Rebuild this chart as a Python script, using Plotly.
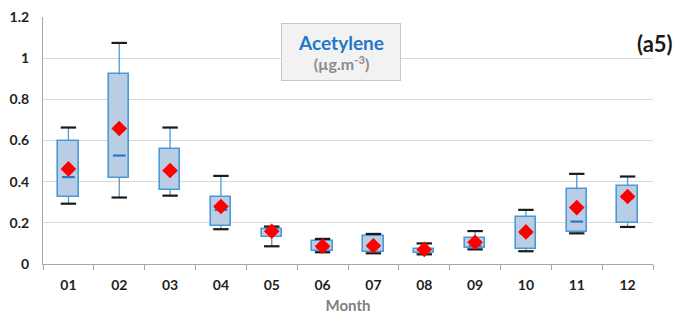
import plotly.graph_objects as go

months = ["01", "02", "03", "04", "05", "06", "07", "08", "09", "10", "11", "12"]
whisker_low = [0.293, 0.323, 0.332, 0.169, 0.086, 0.057, 0.052, 0.047, 0.071, 0.062, 0.149, 0.180]
q1 = [0.326, 0.420, 0.360, 0.186, 0.133, 0.065, 0.060, 0.055, 0.079, 0.073, 0.156, 0.198]
median = [0.422, 0.527, 0.450, 0.263, 0.160, 0.080, 0.085, 0.068, 0.089, 0.149, 0.206, 0.320]
q3 = [0.600, 0.921, 0.561, 0.325, 0.172, 0.110, 0.136, 0.073, 0.127, 0.230, 0.363, 0.380]
whisker_high = [0.663, 1.074, 0.663, 0.428, 0.182, 0.122, 0.146, 0.100, 0.160, 0.263, 0.438, 0.425]
mean = [0.462, 0.658, 0.454, 0.279, 0.159, 0.086, 0.089, 0.071, 0.106, 0.156, 0.274, 0.328]
y_ticks = [0, 0.2, 0.4, 0.6, 0.8, 1.0, 1.2]
y_ticklabels = ["0", "0.2", "0.4", "0.6", "0.8", "1", "1.2"]

BOX_LINE = "#4a9ad8"
BOX_FILL = "#b9cde5"
FONT = "Lato"

L, R, T, B = 43, 22, 17, 53
W, H = 675, 317
PW, PH = W - L - R, H - T - B


def px_x(x):
    return (x - L) / PW


def px_y(y):
    return (H - B - y) / PH


fig = go.Figure()

# whiskers
wx, wy = [], []
for m, lo, a, b, hi in zip(months, whisker_low, q1, q3, whisker_high):
    wx += [m, m, None, m, m, None]
    wy += [b, hi, None, lo, a, None]
fig.add_trace(go.Scatter(x=wx, y=wy, mode="lines",
                         line=dict(color=BOX_LINE, width=1.3),
                         hoverinfo="skip", showlegend=False))

# boxes
fig.add_trace(go.Bar(x=months, y=[b - a for a, b in zip(q1, q3)], base=q1,
                     width=0.4, marker=dict(color=BOX_FILL, line=dict(color=BOX_LINE, width=1.6)),
                     showlegend=False))

# caps
fig.add_trace(go.Scatter(x=months + months, y=whisker_low + whisker_high, mode="markers",
                         marker=dict(symbol="line-ew", size=11, line=dict(color="#1a1a1a", width=2.2)),
                         showlegend=False))

# medians
fig.add_trace(go.Scatter(x=months, y=median, mode="markers",
                         marker=dict(symbol="line-ew", size=9, line=dict(color="#2478c4", width=2.2)),
                         showlegend=False))

# means
fig.add_trace(go.Scatter(x=months, y=mean, mode="markers",
                         marker=dict(symbol="diamond", size=12, color="#ff0000", line=dict(width=0)),
                         showlegend=False))

fig.update_layout(
    width=W, height=H,
    margin=dict(l=L, r=R, t=T, b=B, autoexpand=False),
    paper_bgcolor="white", plot_bgcolor="white",
    font=dict(family=FONT, color="#262626"),
    bargap=0,
    xaxis=dict(type="category", range=[-0.5, 11.5], tickson="boundaries", automargin=False,
               ticks="outside", ticklen=5, tickcolor="#a6a6a6", tickwidth=1,
               ticklabelstandoff=8,
               showline=True, linecolor="#a6a6a6", linewidth=1, showgrid=False,
               tickfont=dict(family=FONT, size=14, color="#1f1f1f", weight="bold"),
               title=dict(text="Month", font=dict(family=FONT, size=15, color="#808080", weight="bold"),
                          standoff=8)),
    yaxis=dict(range=[0, 1.2], tickvals=y_ticks, ticktext=y_ticklabels, automargin=False,
               showgrid=True, gridcolor="#d9d9d9", gridwidth=1,
               showline=True, linecolor="#a6a6a6", linewidth=1, zeroline=False,
               ticks="", ticklabelstandoff=10,
               tickfont=dict(family=FONT, size=14, color="#1f1f1f", weight="bold")),
    annotations=[
        dict(xref="paper", yref="paper", x=px_x(341), y=px_y(52),
             xanchor="center", yanchor="middle",
             text="<b><span style='color:#1f78c8;font-size:19px'>Acetylene</span></b><br>"
                  "<b><span style='color:#8c8c8c;font-size:16px'>(µg.m<sup>-3</sup>)</span></b>",
             showarrow=False, align="center", bgcolor="#f2f2f2", bordercolor="#c8c8c8",
             borderwidth=1, borderpad=4, width=110, height=48,
             font=dict(family=FONT, size=16, color="#8c8c8c")),
        dict(xref="paper", yref="paper", x=px_x(675), y=px_y(43),
             text="<b>(a5)</b>", showarrow=False, xanchor="right", yanchor="middle",
             font=dict(family=FONT, size=22, color="#1a1a1a")),
    ],
)

fig.write_html("out.html", config={"displayModeBar": False},
               post_script="document.body.style.margin='0';")
